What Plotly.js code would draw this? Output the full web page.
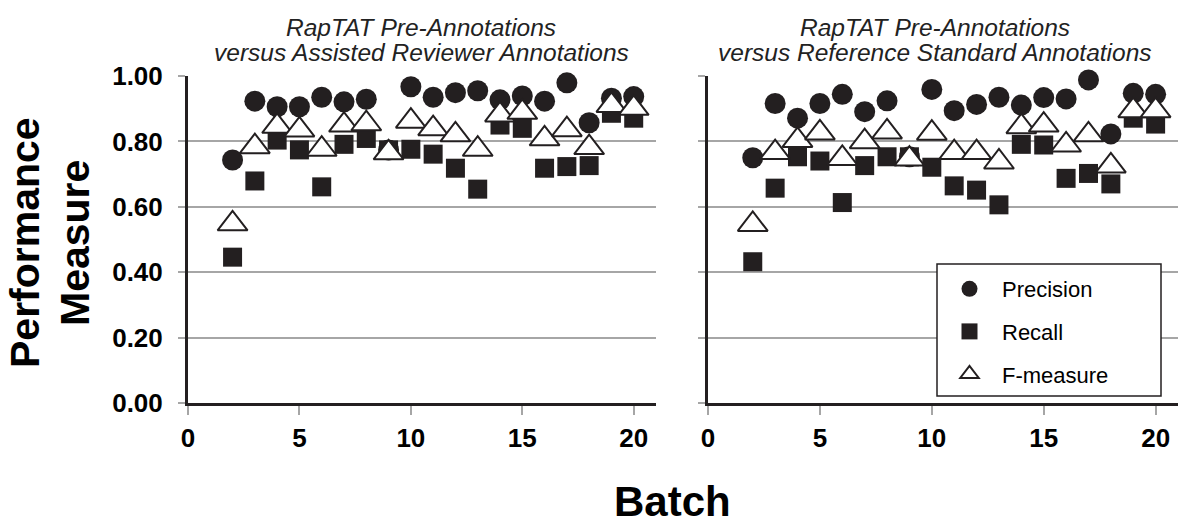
<!DOCTYPE html>
<html>
<head>
<meta charset="utf-8">
<script src="https://cdn.plot.ly/plotly-3.0.1.min.js"></script>
<style>html,body{margin:0;padding:0;background:#fff;}#chart{width:1178px;height:524px;}</style>
</head>
<body>
<div id="chart"></div>
<script>
// Batches shown on both panels
const batches = [2,3,4,5,6,7,8,9,10,11,12,13,14,15,16,17,18,19,20];

// Left panel: RapTAT pre-annotations vs assisted reviewer annotations
const leftPrecision = [0.743,0.923,0.906,0.906,0.935,0.921,0.929,0.774,0.967,0.935,0.949,0.955,0.927,0.939,0.923,0.979,0.857,0.932,0.937];
const leftRecall    = [0.446,0.679,0.804,0.774,0.661,0.791,0.809,0.774,0.776,0.761,0.718,0.654,0.850,0.840,0.718,0.723,0.726,0.886,0.871];
const leftFmeasure  = [0.548,0.784,0.846,0.835,0.776,0.850,0.854,0.765,0.862,0.839,0.820,0.776,0.881,0.889,0.808,0.836,0.781,0.910,0.901];

// Right panel: RapTAT pre-annotations vs reference standard annotations
const rightPrecision = [0.750,0.916,0.871,0.916,0.944,0.891,0.924,0.753,0.959,0.894,0.913,0.935,0.911,0.934,0.930,0.988,0.823,0.947,0.944];
const rightRecall    = [0.432,0.657,0.753,0.740,0.613,0.726,0.753,0.753,0.721,0.664,0.651,0.606,0.791,0.789,0.687,0.702,0.670,0.871,0.853];
const rightFmeasure  = [0.546,0.766,0.803,0.826,0.748,0.799,0.829,0.746,0.825,0.766,0.766,0.737,0.845,0.850,0.789,0.820,0.725,0.894,0.894];

const seriesNames = ["Precision","Recall","F-measure"];
const leftTitle = ["RapTAT Pre-Annotations","versus Assisted Reviewer Annotations"];
const rightTitle = ["RapTAT Pre-Annotations","versus Reference Standard Annotations"];
const yTitleLines = ["Performance","Measure"];
const xTitle = "Batch";

const INK = "#231f20";
const GRID = "#a6a6a6";
const FONT = "Liberation Sans, Arial, Helvetica, sans-serif";

function markerStyle(i){
  if(i===0) return {symbol:"circle", size:21, color:INK, line:{width:0}};
  if(i===1) return {symbol:"square", size:19, color:INK, line:{width:0}};
  return {symbol:"triangle-up", size:26, color:"#ffffff", line:{color:INK, width:2}};
}

const traces = [];
[[leftPrecision,leftRecall,leftFmeasure,"x","y",false],
 [rightPrecision,rightRecall,rightFmeasure,"x2","y2",true]].forEach(p=>{
  [p[0],p[1],p[2]].forEach((vals,i)=>{
    traces.push({
      type:"scatter", mode:"markers", x:batches, y:vals,
      xaxis:p[3], yaxis:p[4], name:seriesNames[i],
      legendgroup:"g"+i, showlegend:p[5],
      marker:markerStyle(i), cliponaxis:false, hoverinfo:"x+y"
    });
  });
});

const H = 524, W = 1178;
const px = v => v / W;
const py = v => 1 - v / H;

const xCommon = {
  range:[0,21], tick0:0, dtick:5, showgrid:false, zeroline:false,
  showline:true, linecolor:INK, linewidth:3,
  ticks:"outside", ticklen:9, tickwidth:2, tickcolor:GRID,
  tickfont:{family:FONT, size:26, color:"#000", weight:"bold"},
  ticklabelstandoff:1, fixedrange:true
};
const yCommon = {
  range:[0,1], tick0:0, dtick:0.2, tickformat:".2f",
  showgrid:true, gridcolor:GRID, gridwidth:2, zeroline:false,
  showline:true, linecolor:INK, linewidth:3,
  ticks:"outside", ticklen:7, tickwidth:2, tickcolor:GRID,
  tickfont:{family:FONT, size:26, color:"#000", weight:"bold"},
  ticklabelstandoff:10, fixedrange:true,
  domain:[py(403), py(76)]
};

const annotations = [];
function ann(text, x, y, font, opts){
  annotations.push(Object.assign({
    text:text, xref:"paper", yref:"paper", x:px(x), y:py(y),
    xanchor:"center", yanchor:"middle", showarrow:false, font:font
  }, opts||{}));
}
const titleFont = {family:FONT, size:24.5, color:"#222"};
ann("<i>"+leftTitle[0]+"</i>", 421, 27, titleFont);
ann("<i>"+leftTitle[1]+"</i>", 421, 52, titleFont);
ann("<i>"+rightTitle[0]+"</i>", 935, 27, titleFont);
ann("<i>"+rightTitle[1]+"</i>", 935, 52, titleFont);
const bigFont = {family:FONT, size:41, color:"#000"};
ann("<b>"+yTitleLines[0]+"</b>", 25, 243, bigFont, {textangle:-90});
ann("<b>"+yTitleLines[1]+"</b>", 75, 243, bigFont, {textangle:-90});
ann("<b>"+xTitle+"</b>", 672, 501, {family:FONT, size:42, color:"#000"});

const layout = {
  width:W, height:H,
  margin:{l:0,r:0,t:0,b:0,pad:0},
  paper_bgcolor:"#fff", plot_bgcolor:"rgba(0,0,0,0)",
  showlegend:true,
  xaxis:Object.assign({}, xCommon, {domain:[px(188), px(656)], anchor:"y"}),
  yaxis:Object.assign({}, yCommon, {anchor:"x"}),
  xaxis2:Object.assign({}, xCommon, {domain:[px(708), 1], anchor:"y2"}),
  yaxis2:Object.assign({}, yCommon, {anchor:"x2", showticklabels:false}),
  legend:{
    x:px(937), y:py(268), xanchor:"left", yanchor:"top",
    bgcolor:"rgba(0,0,0,0)", borderwidth:0,
    font:{family:FONT, size:22, color:"#000"},
    tracegroupgap:11, itemwidth:55, traceorder:"grouped"
  },
  shapes:[{
    type:"rect", xref:"paper", yref:"paper",
    x0:px(937), x1:px(1161), y0:py(396), y1:py(264),
    fillcolor:"#fff", line:{color:INK, width:1.5}, layer:"above"
  }],
  annotations:annotations
};

Plotly.newPlot("chart", traces, layout, {displayModeBar:false, staticPlot:true});
</script>
</body>
</html>
